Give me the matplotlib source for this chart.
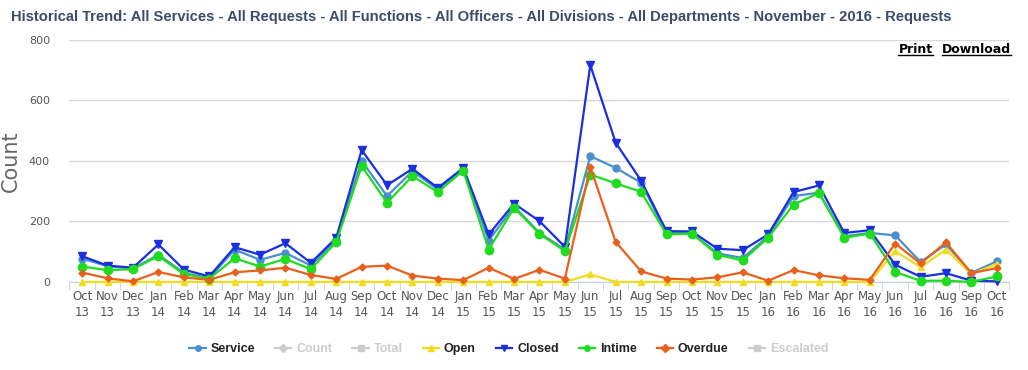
import numpy as np
import matplotlib
matplotlib.use("Agg")
import matplotlib.pyplot as plt
from matplotlib.lines import Line2D

# Datos
months = ["Oct\n13", "Nov\n13", "Dec\n13", "Jan\n14", "Feb\n14", "Mar\n14", "Apr\n14", "May\n14",
          "Jun\n14", "Jul\n14", "Aug\n14", "Sep\n14", "Oct\n14", "Nov\n14", "Dec\n14", "Jan\n15",
          "Feb\n15", "Mar\n15", "Apr\n15", "May\n15", "Jun\n15", "Jul\n15", "Aug\n15", "Sep\n15",
          "Oct\n15", "Nov\n15", "Dec\n15", "Jan\n16", "Feb\n16", "Mar\n16", "Apr\n16", "May\n16",
          "Jun\n16", "Jul\n16", "Aug\n16", "Sep\n16", "Oct\n16"]

service = [77, 52, 44, 90, 30, 12, 107, 73, 96, 54, 140, 400, 284, 366, 306, 374,
           137, 250, 162, 107, 416, 377, 328, 162, 161, 95, 79, 151, 284, 295, 151, 162,
           154, 66, 124, 30, 68]
open_ = [0, 0, 0, 0, 0, 0, 0, 0, 0, 0, 0, 0, 0, 0, 0, 0,
         0, 0, 0, 0, 25, 0, 0, 0, 0, 0, 0, 0, 0, 0, 0, 0,
         102, 49, 107, 26, 60]
closed = [85, 54, 47, 124, 41, 18, 115, 90, 128, 63, 146, 436, 320, 374, 311, 377,
          157, 259, 201, 116, 717, 460, 335, 168, 167, 110, 105, 157, 297, 319, 162, 171,
          57, 17, 29, 4, 2]
intime = [51, 39, 42, 86, 26, 11, 78, 51, 76, 42, 132, 383, 262, 350, 297, 368,
          107, 245, 159, 102, 355, 326, 298, 157, 160, 90, 71, 146, 256, 294, 146, 160,
          33, 4, 4, 0, 18]
overdue = [31, 12, 2, 33, 15, 7, 32, 38, 47, 23, 10, 50, 54, 21, 11, 6,
           47, 10, 40, 11, 380, 132, 35, 11, 8, 15, 32, 4, 39, 22, 12, 7,
           127, 61, 131, 29, 46]

title = ("Historical Trend: All Services - All Requests - All Functions - All Officers - "
         "All Divisions - All Departments - November - 2016 - Requests")

fig = plt.figure(figsize=(10.28, 3.70), dpi=100)
ax = fig.add_axes([0.0676, 0.238, 0.9144, 0.654])
x = np.arange(len(months))

series = [
    ("Service", service, "#4a8fcf", "o", 5),
    ("Open", open_, "#f0dc1c", "^", 5),
    ("Closed", closed, "#1a2fe0", "v", 5.5),
    ("Intime", intime, "#1fdc1f", "o", 6),
    ("Overdue", overdue, "#e8601c", "D", 3.5),
]
for i, (name, vals, col, mk, ms) in enumerate(series):
    ax.plot(x, vals, color=col, lw=1.6, marker=mk, ms=ms, mec=col, mfc=col,
            clip_on=False, zorder=3 + i)

ax.set_xlim(-0.5, len(months) - 0.5)
ax.set_ylim(0, 800)
ax.set_yticks([0, 200, 400, 600, 800])
ax.yaxis.grid(True, color="#d8d8d8", lw=1)
ax.set_axisbelow(True)
for s in ["top", "right", "left"]:
    ax.spines[s].set_visible(False)
ax.spines["bottom"].set_color("#c0d0e0")
ax.tick_params(axis="y", length=0, labelsize=8, labelcolor="#555555", pad=14)
ax.set_xticks(x)
ax.set_xticklabels(months, fontsize=8.5, color="#555555", linespacing=1.3)
ax.tick_params(axis="x", length=0, pad=6)
ax.set_xticks(np.arange(-0.5, len(months)), minor=True)
ax.tick_params(axis="x", which="minor", length=6, color="#c0d0e0")
ax.set_ylabel("Count", fontsize=15, color="#666666")
ax.yaxis.set_label_coords(-0.052, 0.5)

ttl = fig.text(0.011, 0.955, title, fontsize=10.5, fontweight="bold", color="#3d4a6b",
               family="Liberation Sans", va="center", ha="left")

# Print / Download
t1 = fig.text(0.874, 0.867, "Print", fontsize=9, fontweight="bold", color="black", va="center")
t2 = fig.text(0.916, 0.867, "Download", fontsize=9, fontweight="bold", color="black", va="center")
fig.canvas.draw()
r = fig.canvas.get_renderer()
# ajustar el titulo al ancho del original (~945 px)
w = ttl.get_window_extent(r).width
ttl.set_fontsize(10.5 * 945.0 / w)
for t in (t1, t2):
    bb = t.get_window_extent(r).transformed(fig.transFigure.inverted())
    fig.add_artist(Line2D([bb.x0, bb.x1], [bb.y0 + 0.002, bb.y0 + 0.002],
                          transform=fig.transFigure, color="black", lw=1))

# Leyenda
leg_items = [
    ("Service", "#4a8fcf", "o", True),
    ("Count", "#cccccc", "D", False),
    ("Total", "#cccccc", "s", False),
    ("Open", "#f0dc1c", "^", True),
    ("Closed", "#1a2fe0", "v", True),
    ("Intime", "#1fdc1f", "o", True),
    ("Overdue", "#e8601c", "D", True),
    ("Escalated", "#cccccc", "s", False),
]
handles = [Line2D([], [], color=c, marker=m, ms=4, lw=1.6) for _, c, m, _ in leg_items]
leg = fig.legend(handles, [n for n, _, _, _ in leg_items], loc="center", ncol=8,
                 bbox_to_anchor=(0.495, 0.057), frameon=False, handlelength=1.3,
                 handletextpad=0.4, columnspacing=1.6,
                 prop={"size": 9, "weight": "bold", "family": "Liberation Sans"})
for txt, (_, _, _, active) in zip(leg.get_texts(), leg_items):
    txt.set_color("#222222" if active else "#cccccc")

fig.savefig("out.png", dpi=100)
